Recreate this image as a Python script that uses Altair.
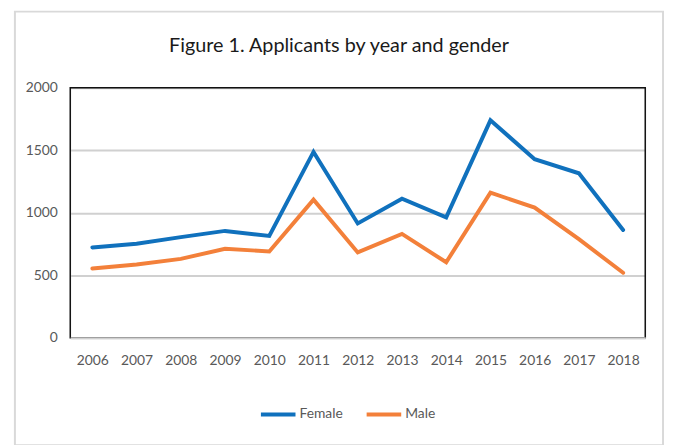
import altair as alt
import pandas as pd

years = [str(y) for y in range(2006, 2019)]
female = [722, 751, 804, 854, 814, 1486, 914, 1112, 962, 1739, 1428, 1315, 862]
male = [553, 585, 630, 711, 690, 1104, 682, 830, 603, 1160, 1041, 788, 519]
title_text = "Figure 1. Applicants by year and gender"

rows = []
for i, y in enumerate(years):
    rows.append({"year": y, "gender": "Female", "value": female[i]})
    rows.append({"year": y, "gender": "Male", "value": male[i]})
df = pd.DataFrame(rows)

FONT = "Lato"
GREY = "#595959"
one = pd.DataFrame({"t": [title_text]})

frame = alt.Chart(one).mark_rect(
    fill=None, stroke="#d9d9d9", strokeWidth=2
).encode(
    x=alt.value(-56), x2=alt.value(600), y=alt.value(-77), y2=alt.value(362)
)

title = alt.Chart(one).mark_text(
    font=FONT, fontSize=20, color="#1a1a1a", baseline="alphabetic", align="center"
).encode(text="t:N", x=alt.value(272), y=alt.value(-36))

lines = alt.Chart(df).mark_line(strokeWidth=4, strokeCap="round", strokeJoin="miter").encode(
    x=alt.X("year:O", sort=years,
            scale=alt.Scale(type="point", padding=0.5),
            axis=alt.Axis(title=None, labelAngle=0, ticks=False, domain=True,
                          domainColor="#d0d0d0", domainWidth=2, zindex=1,
                          labelFont=FONT, labelFontSize=14, labelColor=GREY,
                          labelPadding=16, grid=False)),
    y=alt.Y("value:Q", scale=alt.Scale(domain=[0, 2000]),
            axis=alt.Axis(title=None, values=[0, 500, 1000, 1500, 2000], ticks=False,
                          format="d",
                          domain=False, gridColor="#d0d0d0", gridWidth=2,
                          labelFont=FONT, labelFontSize=14, labelColor=GREY,
                          labelPadding=13)),
    color=alt.Color("gender:N",
                    scale=alt.Scale(domain=["Female", "Male"], range=["#1071BD", "#F3803A"]),
                    legend=alt.Legend(title=None, orient="none", legendX=191, legendY=311,
                                      direction="horizontal", symbolType="stroke",
                                      symbolSize=1225, symbolStrokeWidth=4,
                                      labelFont=FONT, labelFontSize=14, labelColor=GREY,
                                      labelOffset=2, columnPadding=16)),
)

border = alt.Chart(one).mark_rect(fill=None, stroke="#111111", strokeWidth=1.5).encode(
    x=alt.value(0), x2=alt.value(582), y=alt.value(0), y2=alt.value(253)
)

chart = alt.layer(frame, title, border, lines).properties(
    width=582, height=253,
    autosize=alt.AutoSizeParams(type="none"),
    padding={"left": 63, "top": 78, "right": 20, "bottom": 106},
).configure_view(stroke=None).configure(background="white")

chart.save("out.html", embed_options={"renderer": "svg", "actions": False})
